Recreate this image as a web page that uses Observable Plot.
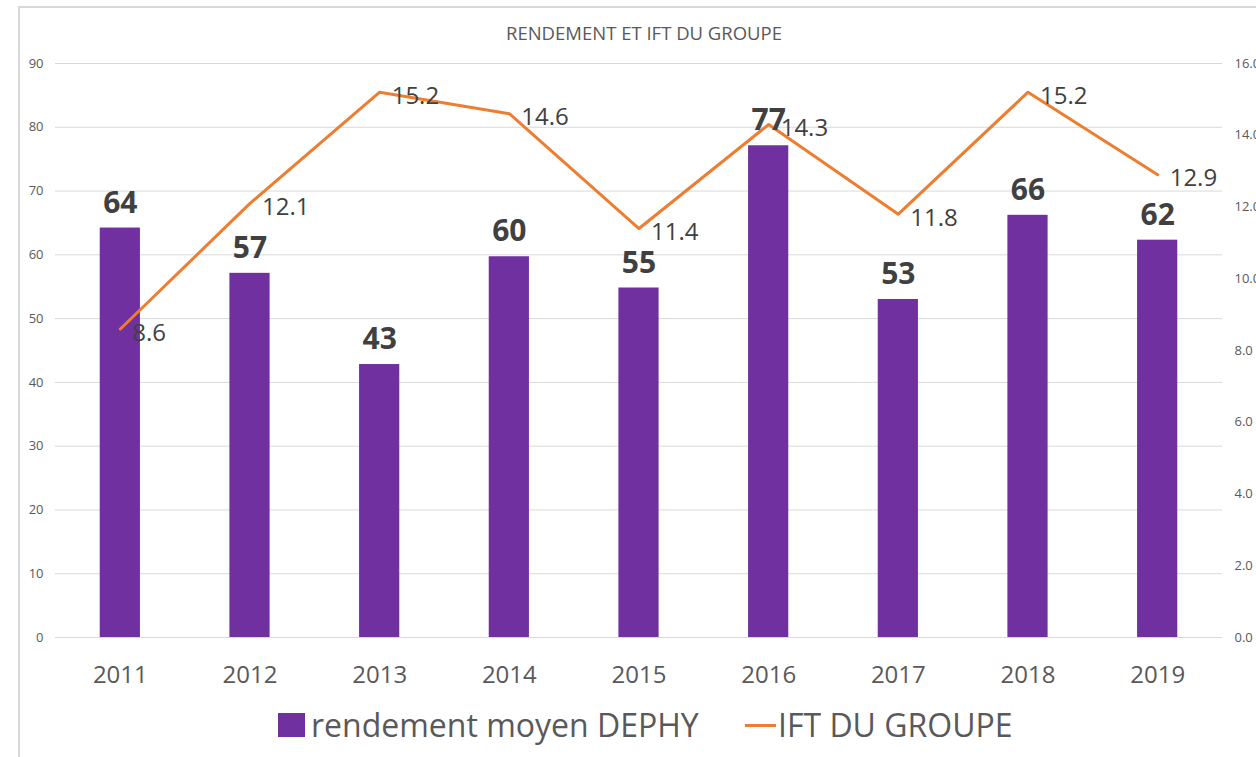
<!DOCTYPE html>
<html>
<head>
<meta charset="utf-8">
<script src="https://cdn.jsdelivr.net/npm/d3@7"></script>
<script src="https://cdn.jsdelivr.net/npm/@observablehq/plot@0.6"></script>
<style>
  html, body { margin: 0; padding: 0; background: #fff; overflow: hidden; }
  body { width: 1256px; height: 757px; position: relative; font-family: "Open Sans", sans-serif; }
  #frame { position: absolute; left: 18px; top: 6px; width: 1300px; height: 800px;
           border-left: 2px solid #d9d9d9; border-top: 2px solid #d9d9d9; box-sizing: border-box; }
  #title { position: absolute; left: 18px; width: 1252px; top: 22px; text-align: center;
           font-size: 18.5px; line-height: 22px; color: #595959; }
  #chart { position: absolute; left: 0; top: 0; }
  .leg { position: absolute; font-size: 32px; line-height: 40px; color: #595959; white-space: nowrap; }
  .sw { position: absolute; }
</style>
</head>
<body>
<div id="frame"></div>
<div id="title">RENDEMENT ET IFT DU GROUPE</div>
<div id="chart"></div>
<div class="sw" style="left:278px;top:713px;width:27px;height:24px;background:#7030A0"></div>
<div class="leg" id="leg1" style="left:311px;top:705px">rendement moyen DEPHY</div>
<div class="sw" style="left:745px;top:724px;width:31px;height:3px;background:#ED7D31"></div>
<div class="leg" id="leg2" style="left:778px;top:705px">IFT DU GROUPE</div>
<script>
const years = ["2011", "2012", "2013", "2014", "2015", "2016", "2017", "2018", "2019"];
const rendement = [64.2, 57.1, 42.8, 59.7, 54.8, 77.1, 53.0, 66.2, 62.3];
const ift = [8.6, 12.1, 15.2, 14.6, 11.4, 14.3, 11.8, 15.2, 12.9];
const leftTicks = [0, 10, 20, 30, 40, 50, 60, 70, 80, 90];
const rightTicks = [0, 2, 4, 6, 8, 10, 12, 14, 16];
const leftMax = 90;
const rightMax = 16;

const k = leftMax / rightMax;
const data = years.map((y, i) => ({ year: y, r: rendement[i], ift: ift[i], iftScaled: ift[i] * k }));

const chart = Plot.plot({
  width: 1256,
  height: 700,
  marginLeft: 55,
  marginRight: 34,
  marginTop: 63,
  marginBottom: 63,
  style: { fontFamily: "Open Sans", background: "transparent", overflow: "visible" },
  x: { domain: years, paddingInner: 0.69, paddingOuter: 0.345, round: false, label: null },
  y: { domain: [0, leftMax], label: null },
  marks: [
    Plot.gridY(leftTicks, { stroke: "#d9d9d9", strokeOpacity: 1, strokeWidth: 1 }),
    Plot.axisY(leftTicks, { anchor: "left", tickSize: 0, tickPadding: 12, fontSize: 13, fill: "#595959", label: null }),
    Plot.axisY(rightTicks.map(v => v * k), { anchor: "right", tickSize: 0, tickPadding: 12, fontSize: 13, fill: "#595959",
      tickFormat: d => (d / k).toFixed(1), label: null }),
    Plot.axisX({ tickSize: 0, tickPadding: 28, fontSize: 24, fill: "#595959", label: null }),
    Plot.barY(data, { x: "year", y: "r", fill: "#7030A0" }),
    Plot.line(data, { x: "year", y: "iftScaled", stroke: "#ED7D31", strokeWidth: 3 }),
    Plot.text(data, { x: "year", y: "r", text: d => String(Math.round(d.r)), dy: -25, fontSize: 30, fontWeight: "bold", fill: "#404040" }),
    Plot.text(data, { x: "year", y: "iftScaled", text: d => d.ift.toFixed(1), textAnchor: "start", dx: 12, dy: 4, fontSize: 24, fill: "#404040" })
  ]
});
document.getElementById("chart").appendChild(chart);
</script>
</body>
</html>
